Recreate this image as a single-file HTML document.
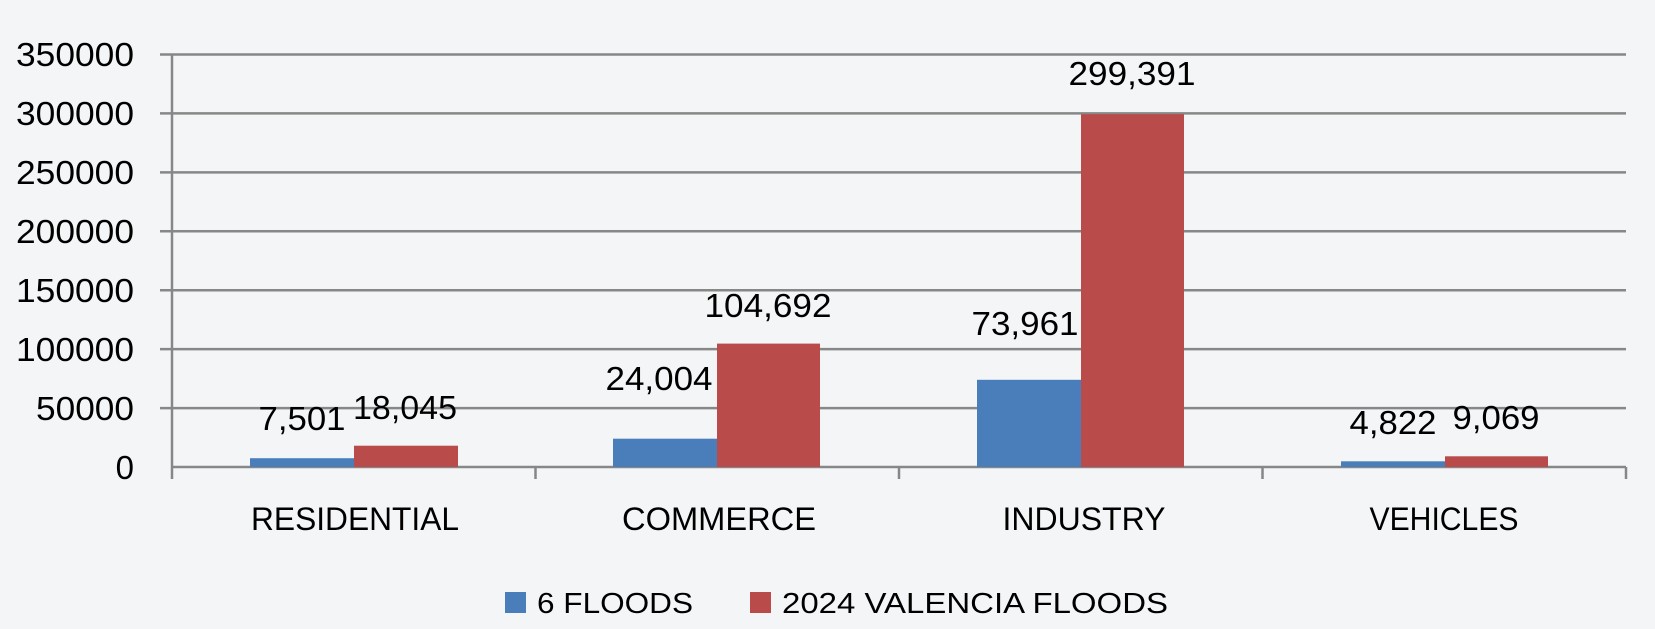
<!DOCTYPE html>
<html><head><meta charset="utf-8"><style>
html,body{margin:0;padding:0;background:#f4f5f7;}
svg{display:block;}
text{font-family:"Liberation Sans",sans-serif;fill:#000;}
</style></head><body>
<svg width="1655" height="629" viewBox="0 0 1655 629" xmlns="http://www.w3.org/2000/svg">
<rect width="1655" height="629" fill="#f4f5f7"/>
<g stroke="#878787" stroke-width="2.5">
<line x1="160" y1="54.5" x2="1626" y2="54.5"/>
<line x1="160" y1="113.4" x2="1626" y2="113.4"/>
<line x1="160" y1="172.4" x2="1626" y2="172.4"/>
<line x1="160" y1="231.3" x2="1626" y2="231.3"/>
<line x1="160" y1="290.2" x2="1626" y2="290.2"/>
<line x1="160" y1="349.1" x2="1626" y2="349.1"/>
<line x1="160" y1="408.1" x2="1626" y2="408.1"/>
<line x1="172" y1="54.5" x2="172" y2="479"/>
<line x1="172" y1="467" x2="1626" y2="467"/>
<line x1="535.5" y1="467" x2="535.5" y2="479"/>
<line x1="899" y1="467" x2="899" y2="479"/>
<line x1="1262.5" y1="467" x2="1262.5" y2="479"/>
<line x1="1626" y1="467" x2="1626" y2="479"/>
</g>
<g font-size="33" text-anchor="end">
<text x="134" y="66" textLength="118" lengthAdjust="spacingAndGlyphs">350000</text>
<text x="134" y="125" textLength="118" lengthAdjust="spacingAndGlyphs">300000</text>
<text x="134" y="184" textLength="118" lengthAdjust="spacingAndGlyphs">250000</text>
<text x="134" y="243" textLength="118" lengthAdjust="spacingAndGlyphs">200000</text>
<text x="134" y="302" textLength="118" lengthAdjust="spacingAndGlyphs">150000</text>
<text x="134" y="361" textLength="118" lengthAdjust="spacingAndGlyphs">100000</text>
<text x="134" y="420" textLength="98" lengthAdjust="spacingAndGlyphs">50000</text>
<text x="134" y="479">0</text>
</g>
<g fill="#4a7ebb">
<rect x="250" y="458.2" width="104" height="8.8"/>
<rect x="613" y="438.7" width="104" height="28.3"/>
<rect x="977" y="379.8" width="104" height="87.2"/>
<rect x="1341" y="461.3" width="104" height="5.7"/>
</g>
<g fill="#b94c4a">
<rect x="354" y="445.7" width="104" height="21.3"/>
<rect x="717" y="343.6" width="103" height="123.4"/>
<rect x="1081" y="114.2" width="103" height="352.8"/>
<rect x="1445" y="456.3" width="103" height="10.7"/>
</g>
<g font-size="33" text-anchor="middle">
<text x="302" y="430" textLength="87" lengthAdjust="spacingAndGlyphs">7,501</text>
<text x="405" y="419" textLength="104" lengthAdjust="spacingAndGlyphs">18,045</text>
<text x="659" y="390" textLength="107" lengthAdjust="spacingAndGlyphs">24,004</text>
<text x="768" y="317" textLength="127" lengthAdjust="spacingAndGlyphs">104,692</text>
<text x="1025" y="335" textLength="107" lengthAdjust="spacingAndGlyphs">73,961</text>
<text x="1132" y="85" textLength="127" lengthAdjust="spacingAndGlyphs">299,391</text>
<text x="1393" y="434" textLength="87" lengthAdjust="spacingAndGlyphs">4,822</text>
<text x="1496" y="429" textLength="87" lengthAdjust="spacingAndGlyphs">9,069</text>
</g>
<g font-size="32" text-anchor="middle">
<text x="355" y="530" textLength="208" lengthAdjust="spacingAndGlyphs">RESIDENTIAL</text>
<text x="719" y="530" textLength="194" lengthAdjust="spacingAndGlyphs">COMMERCE</text>
<text x="1084" y="530" textLength="163" lengthAdjust="spacingAndGlyphs">INDUSTRY</text>
<text x="1444" y="530" textLength="149" lengthAdjust="spacingAndGlyphs">VEHICLES</text>
</g>
<rect x="505" y="592" width="21" height="21" fill="#4a7ebb"/>
<rect x="750" y="592" width="21" height="21" fill="#b94c4a"/>
<g font-size="29">
<text x="537" y="613" textLength="156" lengthAdjust="spacingAndGlyphs">6 FLOODS</text>
<text x="782" y="613" textLength="386" lengthAdjust="spacingAndGlyphs">2024 VALENCIA FLOODS</text>
</g>
</svg>
</body></html>
